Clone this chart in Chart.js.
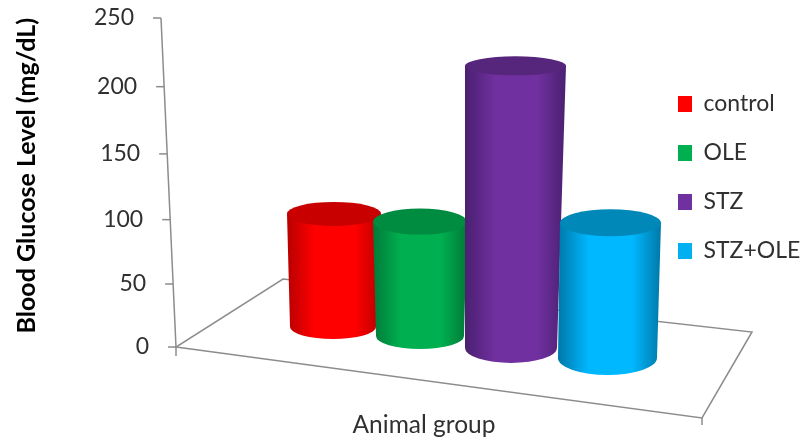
<!DOCTYPE html>
<html>
<head>
<meta charset="utf-8">
<title>Blood glucose by animal group</title>
<script src="https://cdn.jsdelivr.net/npm/chart.js@4"></script>
<style>
  html, body { margin: 0; background: #fff; }
  #wrap { width: 800px; height: 444px; }
</style>
</head>
<body>
<div id="wrap"><canvas id="chartGlucose" width="800" height="444"></canvas></div>
<script>
// Data
const groups = ['control', 'OLE', 'STZ', 'STZ+OLE'];
const glucose = [89, 90, 216, 106];
const yTicks = [0, 50, 100, 150, 200, 250];

// Colours per group: front of the cylinder, its shaded edge, its top cap
const bodyColors = ['#FF0000', '#00B050', '#7030A0', '#00B8FF'];
const edgeColors = ['#B80000', '#007A38', '#4A2070', '#0078A8'];
const capColors = ['#C80000', '#008C40', '#56267C', '#0088B8'];

// Fake 3D placement of each cylinder on the floor
const placement = [
  { dx: 50, dy: -20, topDx: 1, rxTop: 47, rxBase: 43, ryTop: 12, ryBase: 12 },
  { dx: 43, dy: -11, topDx: 0, rxTop: 47, rxBase: 44, ryTop: 13, ryBase: 13 },
  { dx: 40, dy: 1, topDx: 4.5, rxTop: 50.5, rxBase: 46, ryTop: 9.5, ryBase: 15 },
  { dx: 42.5, dy: 11, topDx: 3, rxTop: 50.5, rxBase: 49.5, ryTop: 13.5, ryBase: 17 }
];

const FONT = 'Lato, Carlito, sans-serif';
const TEXT = '#303030';
const FRAME = '#8c8c8c';
const LEAN = 15 / 329;     // how far the value axis leans to the left
const DEPTH = 0.0526;      // perspective: higher values are spaced further apart

// Value axis of the 3D box: leaning line, ticks spread out towards the top
class SlantedScale extends Chart.LinearScale {
  static id = 'slanted';
  static defaults = {};
  getPixelForValue(value) {
    const f = (value - this.min) / (this.max - this.min);
    return this.bottom - (this.bottom - this.top) * f * (1 - DEPTH) / (1 - DEPTH * f);
  }
  _computeLabelItems(area) {
    const items = super._computeLabelItems(area);
    items.forEach(it => {
      const t = it.options.translation;
      t[0] -= (this.bottom - t[1]) * LEAN;
    });
    return items;
  }
}
Chart.register(SlantedScale);

function line(ctx, x1, y1, x2, y2) {
  ctx.beginPath();
  ctx.moveTo(x1, y1);
  ctx.lineTo(x2, y2);
  ctx.stroke();
}

// Floor outline and leaning axis
function drawFrame(chart) {
  const ctx = chart.ctx;
  const y = chart.scales.y;
  const l = chart.chartArea.left;
  const b = chart.chartArea.bottom;
  ctx.save();
  ctx.strokeStyle = FRAME;
  ctx.lineWidth = 1.5;

  ctx.beginPath();
  ctx.moveTo(l, b);
  ctx.lineTo(l + 526, b + 71);
  ctx.lineTo(l + 576, b - 15);
  ctx.lineTo(l + 107, b - 68);
  ctx.closePath();
  ctx.stroke();
  line(ctx, l + 526, b + 71, l + 526, b + 78);

  const topY = y.getPixelForValue(250);
  line(ctx, l, b, l - (b - topY) * LEAN, topY);
  yTicks.forEach(v => {
    const py = y.getPixelForValue(v);
    const px = l - (b - py) * LEAN;
    line(ctx, px - 8, py, px, py);
  });
  line(ctx, l, b, l, b + 9);
  ctx.restore();
}

function drawCylinder(ctx, bar, i) {
  const p = placement[i];
  const baseX = bar.x + p.dx;
  const baseY = bar.base + p.dy;
  const topX = baseX + p.topDx;
  const topY = bar.y + p.dy;
  const left = Math.min(topX - p.rxTop, baseX - p.rxBase);
  const right = Math.max(topX + p.rxTop, baseX + p.rxBase);

  const g = ctx.createLinearGradient(left, 0, right, 0);
  g.addColorStop(0, edgeColors[i]);
  g.addColorStop(0.3, bodyColors[i]);
  g.addColorStop(0.72, bodyColors[i]);
  g.addColorStop(1, edgeColors[i]);

  ctx.beginPath();
  ctx.moveTo(topX - p.rxTop, topY);
  ctx.lineTo(baseX - p.rxBase, baseY);
  ctx.ellipse(baseX, baseY, p.rxBase, p.ryBase, 0, Math.PI, 0, true);
  ctx.lineTo(topX + p.rxTop, topY);
  ctx.closePath();
  ctx.fillStyle = g;
  ctx.fill();

  ctx.beginPath();
  ctx.ellipse(topX, topY, p.rxTop, p.ryTop, 0, 0, Math.PI * 2);
  ctx.fillStyle = capColors[i];
  ctx.fill();
}

const scene3d = {
  id: 'scene3d',
  afterLayout(chart) {
    // legend sits to the right of the plot without taking room from it
    const lg = chart.legend;
    const pad = lg.options.labels.padding;
    lg.left = 678 - pad;
    lg.right = 800;
    lg.top = 92.5 - pad;
    lg.bottom = 444;
  },
  beforeDatasetsDraw(chart) {
    drawFrame(chart);
    // back to front, later groups overlap the earlier ones
    groups.forEach((g, i) => {
      drawCylinder(chart.ctx, chart.getDatasetMeta(i).data[0], i);
    });
    return false;
  }
};

new Chart(document.getElementById('chartGlucose'), {
  type: 'bar',
  data: {
    labels: ['Animal group'],
    datasets: groups.map((g, i) => ({
      label: g,
      data: [glucose[i]],
      backgroundColor: i === 3 ? '#00B0F0' : bodyColors[i],
      categoryPercentage: 0.758,
      barPercentage: 1
    }))
  },
  options: {
    responsive: false,
    animation: false,
    layout: { padding: { left: 12, top: 18, right: 128, bottom: 4 } },
    scales: {
      x: {
        grid: { display: false },
        border: { display: false },
        ticks: { display: false },
        title: {
          display: true,
          text: 'Animal group',
          color: TEXT,
          padding: 0,
          font: { family: FONT, size: 24.5 }
        },
        afterFit(scale) { scale.height = 93; }
      },
      y: {
        type: 'slanted',
        min: 0,
        max: 250,
        grid: { display: false },
        border: { display: false },
        afterBuildTicks(scale) { scale.ticks = yTicks.map(v => ({ value: v })); },
        ticks: {
          color: TEXT,
          padding: 19,
          font: { family: FONT, size: 23 }
        },
        title: {
          display: true,
          text: 'Blood Glucose Level (mg/dL)',
          align: 'end',
          color: '#000',
          padding: 0,
          font: { family: FONT, size: 25, weight: 'bold' }
        },
        afterFit(scale) {
          scale.width = 164;
          // tick padding must not push the plot down from the top
          scale.paddingTop = 0;
          scale.paddingBottom = 0;
        }
      }
    },
    plugins: {
      legend: {
        position: 'chartArea',
        align: 'start',
        labels: {
          boxWidth: 14,
          boxHeight: 16,
          padding: 26,
          color: TEXT,
          font: { family: FONT, size: 23 }
        }
      },
      tooltip: { enabled: false }
    }
  },
  plugins: [scene3d]
});
</script>
</body>
</html>
